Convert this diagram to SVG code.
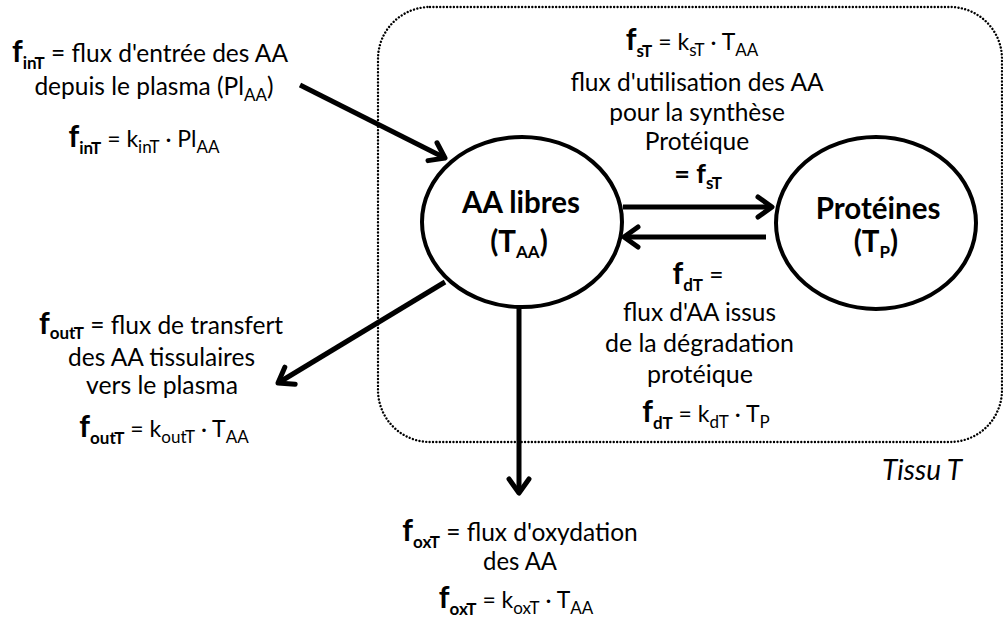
<svg xmlns="http://www.w3.org/2000/svg" width="1003" height="621" viewBox="0 0 1003 621">
<defs>
<style>
text{font-family:Lato,"Open Sans","Liberation Sans",sans-serif;font-size:24.5px;fill:#000}
.c{text-anchor:middle}
.fm{font-size:23px}
.fb{font-weight:bold;font-size:30px}
.sb{font-weight:bold;font-size:17px}
.s{font-size:17px}
.b{font-weight:bold}
.nt{font-weight:bold;font-size:29.5px}
.node{fill:#fff;stroke:#000;stroke-width:4}
.con{stroke:#000;stroke-width:5;fill:none;marker-end:url(#ah)}
</style>
<marker id="ah" markerUnits="userSpaceOnUse" markerWidth="30" markerHeight="30" viewBox="-20 -15 30 30" refX="0" refY="0" orient="auto">
<path d="M-14,-10 L0,0 L-14,10" fill="none" stroke="#000" stroke-width="5" stroke-linecap="round" stroke-linejoin="round"/>
</marker>
</defs>
<rect id="tissu" x="378" y="7" width="624" height="435" rx="52" fill="none" stroke="#000" stroke-width="2.4" stroke-linecap="round" stroke-dasharray="0.01 3.4"/>
<g id="connectors">
<line class="con" x1="300" y1="85" x2="445" y2="158"/>
<line class="con" x1="623" y1="207" x2="772" y2="207"/>
<line class="con" x1="766" y1="237" x2="624" y2="237"/>
<line class="con" x1="445" y1="282" x2="278" y2="383"/>
<line class="con" x1="519" y1="306" x2="519" y2="493"/>
</g>
<g id="aa-libres">
<ellipse class="node" cx="522" cy="222" rx="100" ry="85"/>
<text class="c nt" x="521" y="213">AA libres</text>
<text class="c nt" x="519" y="252">(T<tspan class="sb" dy="6">AA</tspan><tspan dy="-6">)</tspan></text>
</g>
<g id="proteines">
<ellipse class="node" cx="876" cy="223" rx="100" ry="86"/>
<text class="c nt" x="878" y="219">Protéines</text>
<text class="c nt" x="876" y="252">(T<tspan class="sb" dy="6">P</tspan><tspan dy="-6">)</tspan></text>
</g>
<g id="label-in">
<text x="12" y="62"><tspan class="fb">f</tspan><tspan class="sb" dy="7">inT</tspan><tspan dy="-7"> = flux d'entrée des AA</tspan></text>
<text class="c" x="154" y="95">depuis le plasma (Pl<tspan class="s" dy="6">AA</tspan><tspan dy="-6">)</tspan></text>
<text class="c fm" x="144" y="147"><tspan class="fb">f</tspan><tspan class="sb" dy="7">inT</tspan><tspan dy="-7"> = k</tspan><tspan class="s" dy="6">inT</tspan><tspan dy="-6"> · Pl</tspan><tspan class="s" dy="6">AA</tspan></text>
</g>
<g id="label-s">
<text class="c fm" x="692" y="50"><tspan class="fb">f</tspan><tspan class="sb" dy="7">sT</tspan><tspan dy="-7"> = k</tspan><tspan class="s" dy="6">sT</tspan><tspan dy="-6"> · T</tspan><tspan class="s" dy="6">AA</tspan></text>
<text class="c" x="697" y="91">flux d'utilisation des AA</text>
<text class="c" x="697" y="121">pour la synthèse</text>
<text class="c" x="697" y="150">Protéique</text>
<text class="c b" x="698" y="183" style="font-size:27px">= f<tspan class="sb" dy="6">sT</tspan></text>
</g>
<g id="label-d">
<text class="c" x="698" y="284"><tspan class="fb">f</tspan><tspan class="sb" dy="7">dT</tspan><tspan dy="-7"> =</tspan></text>
<text class="c" x="699.5" y="321" textLength="153" lengthAdjust="spacingAndGlyphs">flux d'AA issus</text>
<text class="c" x="699.5" y="352" textLength="189" lengthAdjust="spacingAndGlyphs">de la dégradation</text>
<text class="c" x="700" y="383" textLength="106" lengthAdjust="spacingAndGlyphs">protéique</text>
<text class="c fm" x="706" y="422"><tspan class="fb">f</tspan><tspan class="sb" dy="7">dT</tspan><tspan dy="-7"> = k</tspan><tspan class="s" dy="6">dT</tspan><tspan dy="-6"> · T</tspan><tspan class="s" dy="6">P</tspan></text>
</g>
<g id="label-out">
<text class="c" x="161" y="334"><tspan class="fb">f</tspan><tspan class="sb" dy="5">outT</tspan><tspan dy="-5"> = flux de transfert</tspan></text>
<text class="c" x="161.5" y="366" textLength="187" lengthAdjust="spacingAndGlyphs">des AA tissulaires</text>
<text class="c" x="162" y="394" textLength="152" lengthAdjust="spacingAndGlyphs">vers le plasma</text>
<text class="c fm" x="164" y="437"><tspan class="fb">f</tspan><tspan class="sb" dy="7">outT</tspan><tspan dy="-7"> = k</tspan><tspan class="s" dy="6">outT</tspan><tspan dy="-6"> · T</tspan><tspan class="s" dy="6">AA</tspan></text>
</g>
<g id="label-ox">
<text class="c" x="520" y="541"><tspan class="fb">f</tspan><tspan class="sb" dy="7">oxT</tspan><tspan dy="-7"> = flux d'oxydation</tspan></text>
<text class="c" x="520" y="570" textLength="74" lengthAdjust="spacingAndGlyphs">des AA</text>
<text class="c fm" x="516" y="608"><tspan class="fb">f</tspan><tspan class="sb" dy="7">oxT</tspan><tspan dy="-7"> = k</tspan><tspan class="s" dy="6">oxT</tspan><tspan dy="-6"> · T</tspan><tspan class="s" dy="6">AA</tspan></text>
</g>
<g id="tissu-label">
<text x="882" y="480" style="font-style:italic;font-size:28px">Tissu T</text>
</g>
</svg>
